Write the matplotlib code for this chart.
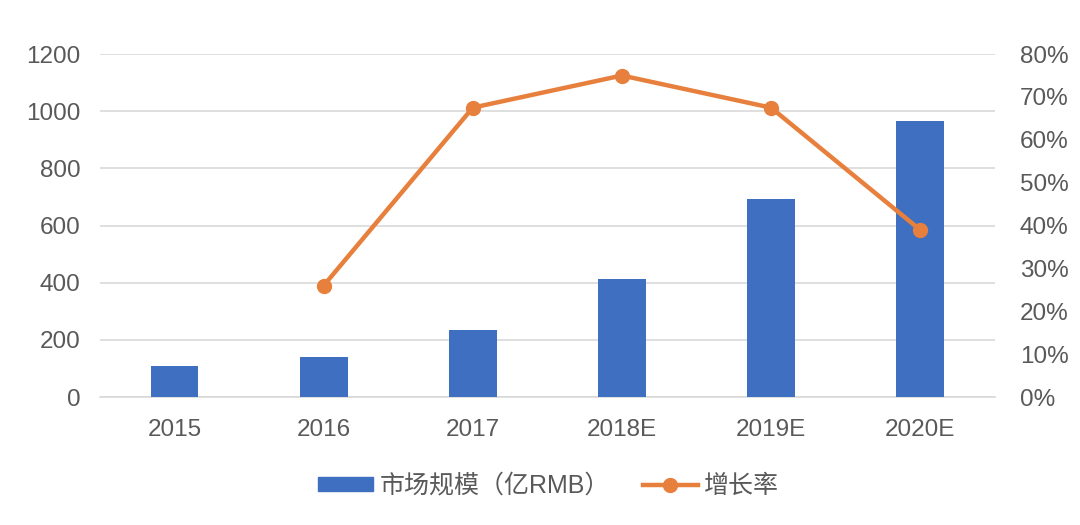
import matplotlib
matplotlib.use('Agg')
import matplotlib.pyplot as plt
from matplotlib.patches import Patch
from matplotlib.lines import Line2D

plt.rcParams['font.family'] = ['Liberation Sans', 'Noto Sans CJK SC', 'DejaVu Sans']

years = ['2015', '2016', '2017', '2018E', '2019E', '2020E']
market_size = [108, 140, 234, 413, 693, 966]   # 亿RMB
growth_years = ['2016', '2017', '2018E', '2019E', '2020E']
growth_rate = [26, 67.5, 75, 67.5, 39]           # %

bar_color = '#3F6FC0'
line_color = '#E8803D'
text_color = '#595959'

fig = plt.figure(figsize=(10.8, 5.25), dpi=100)
ax = fig.add_axes([0.0926, 0.2438, 0.8284, 0.6532])
ax2 = ax.twinx()

x = list(range(len(years)))
ax.bar(x, market_size, width=0.32, color=bar_color, zorder=3)
ax.set_xlim(-0.5, len(years) - 0.5)
ax.set_ylim(0, 1200)
ax.set_yticks(range(0, 1201, 200))
ax.set_xticks(x)
ax.set_xticklabels(years)
ax.yaxis.grid(True, color='#D9D9D9', linewidth=1.2, zorder=0)
ax.set_axisbelow(True)

gx = [years.index(y) for y in growth_years]
ax2.plot(gx, growth_rate, color=line_color, linewidth=3.2, marker='o',
         markersize=10, zorder=4)
ax2.set_ylim(0, 80)
ax2.set_yticks(range(0, 81, 10))
ax2.set_yticklabels(['{}%'.format(v) for v in range(0, 81, 10)])

for a in (ax, ax2):
    for s in a.spines.values():
        s.set_visible(False)
    a.tick_params(length=0, labelsize=17.5, colors=text_color)
ax.tick_params(axis='x', pad=16)
ax.tick_params(axis='y', pad=14)
ax2.tick_params(axis='y', pad=18)
ax.spines['bottom'].set_visible(True)
ax.spines['bottom'].set_color('#D9D9D9')
ax.spines['bottom'].set_linewidth(1.2)

handles = [Patch(color=bar_color),
           Line2D([0], [0], color=line_color, linewidth=3.2, marker='o', markersize=10)]
labels = ['市场规模（亿RMB）', '增长率']
fig.legend(handles, labels, loc='center', bbox_to_anchor=(0.508, 0.075), ncol=2,
           frameon=False, fontsize=18, labelcolor=text_color,
           handlelength=2.2, handleheight=0.5, columnspacing=1.3, handletextpad=0.25)

fig.savefig('out.png', dpi=100, facecolor='white')
